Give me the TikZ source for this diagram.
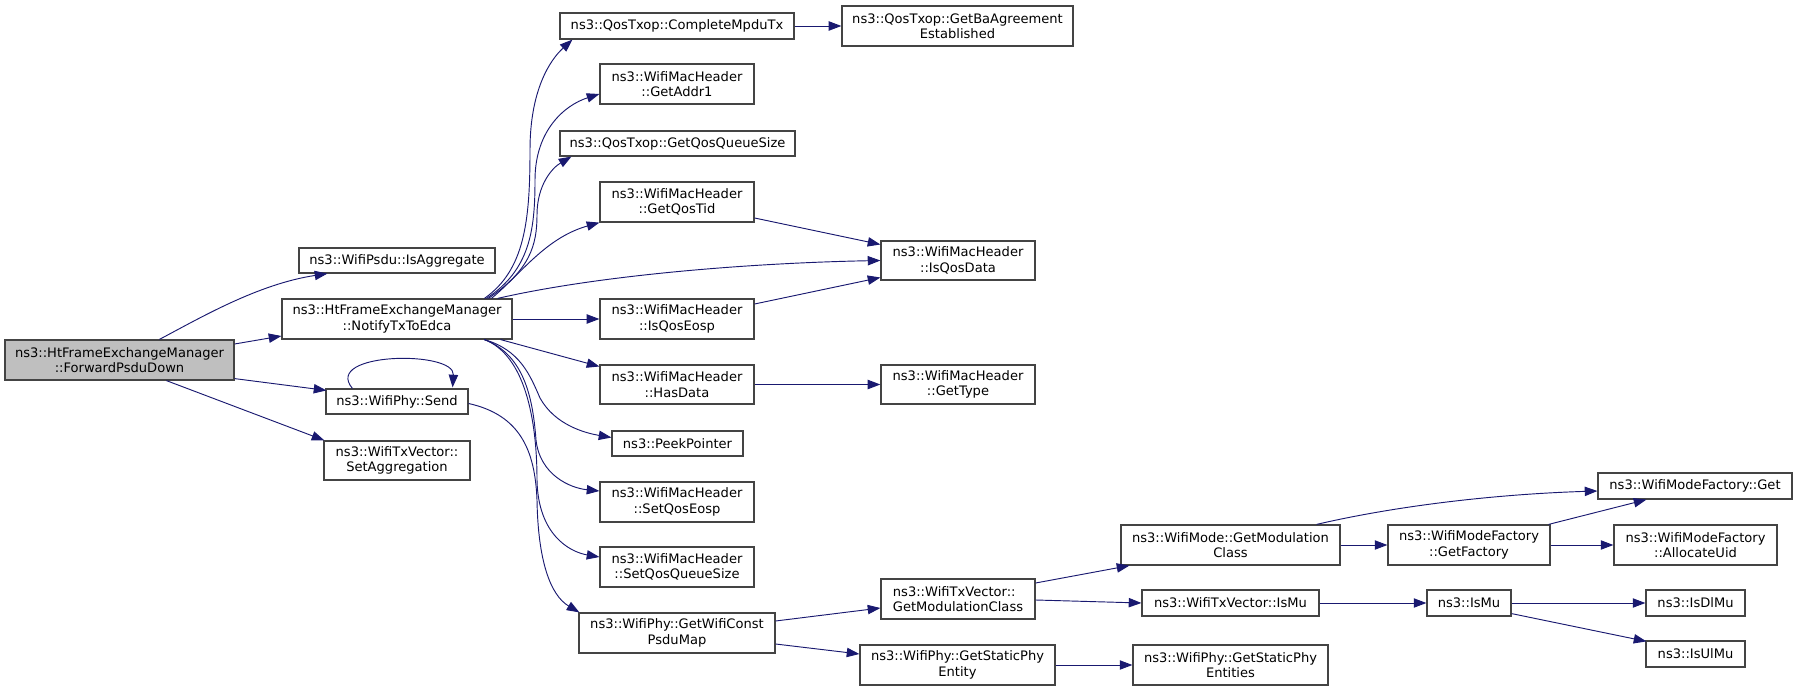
\documentclass[tikz,border=0pt]{standalone}
\usepackage{fontspec}
\setmainfont{DejaVu Sans}
\usetikzlibrary{arrows.meta,calc}
\definecolor{edgec}{HTML}{191970}
\definecolor{boxc}{HTML}{444444}
\definecolor{mainfill}{HTML}{BFBFBF}
\newcommand\fnbox[7][]{\node[fn,minimum width=#5*0.75pt,minimum height=#6*0.75pt,#1] (#2) at (#3,#4) {#7};}
\begin{document}
\begin{tikzpicture}[x=0.75pt,y=-0.75pt,
  fn/.style={draw=boxc,line width=0.9pt,fill=white,inner sep=0pt,align=center,
    font=\fontsize{9.8}{11.6}\selectfont},
  e/.style={draw=edgec,line width=0.7pt,-{Triangle[length=9.5pt,width=7pt]}}]
\useasboundingbox (0,0) rectangle (1797,691);
% nodes
\fnbox[fill=mainfill]{main}{119.5}{360}{229}{40}{ns3::HtFrameExchangeManager\\::ForwardPsduDown}
\fnbox{isagg}{397}{260.5}{196}{25}{ns3::WifiPsdu::IsAggregate}
\fnbox{notify}{397}{319}{230}{40}{ns3::HtFrameExchangeManager\\::NotifyTxToEdca}
\fnbox{send}{397}{401.5}{142}{25}{ns3::WifiPhy::Send}
\fnbox{setagg}{397}{460.5}{146}{39}{ns3::WifiTxVector::\\SetAggregation}
\fnbox{complete}{677}{26}{234}{26}{ns3::QosTxop::CompleteMpduTx}
\fnbox{addr1}{677}{84}{154}{40}{ns3::WifiMacHeader\\::GetAddr1}
\fnbox{qqs}{677.5}{143.5}{235}{25}{ns3::QosTxop::GetQosQueueSize}
\fnbox{qostid}{677}{202}{154}{40}{ns3::WifiMacHeader\\::GetQosTid}
\fnbox{isqoseosp}{677}{319}{154}{40}{ns3::WifiMacHeader\\::IsQosEosp}
\fnbox{hasdata}{677}{384.5}{154}{39}{ns3::WifiMacHeader\\::HasData}
\fnbox{peek}{677.5}{443.5}{131}{25}{ns3::PeekPointer}
\fnbox{setqoseosp}{677}{502}{154}{40}{ns3::WifiMacHeader\\::SetQosEosp}
\fnbox{setqqs}{677}{567}{154}{40}{ns3::WifiMacHeader\\::SetQosQueueSize}
\fnbox{psdumap}{677}{633}{196}{40}{ns3::WifiPhy::GetWifiConst\\PsduMap}
\fnbox{baagr}{957.5}{26}{231}{40}{ns3::QosTxop::GetBaAgreement\\Established}
\fnbox{isqosdata}{958}{260.5}{154}{39}{ns3::WifiMacHeader\\::IsQosData}
\fnbox{gettype}{958}{384.5}{154}{39}{ns3::WifiMacHeader\\::GetType}
\fnbox[align=left]{txmod}{958}{599}{154}{40}{ns3::WifiTxVector::\\GetModulationClass}
\fnbox{phyent}{957.5}{665}{195}{40}{ns3::WifiPhy::GetStaticPhy\\Entity}
\fnbox{wmmod}{1230.5}{545}{219}{40}{ns3::WifiMode::GetModulation\\Class}
\fnbox{txismu}{1230.5}{603}{177}{26}{ns3::WifiTxVector::IsMu}
\fnbox{phyents}{1230.5}{665}{195}{40}{ns3::WifiPhy::GetStaticPhy\\Entities}
\fnbox{factget}{1695}{486}{194}{26}{ns3::WifiModeFactory::Get}
\fnbox{getfactory}{1469}{545}{162}{40}{ns3::WifiModeFactory\\::GetFactory}
\fnbox{alloc}{1695.5}{545}{163}{40}{ns3::WifiModeFactory\\::AllocateUid}
\fnbox{ismu}{1469}{603}{84}{26}{ns3::IsMu}
\fnbox{isdlmu}{1695.5}{603}{99}{26}{ns3::IsDlMu}
\fnbox{isulmu}{1695.5}{654}{99}{26}{ns3::IsUlMu}
% edges from main
\draw[e] ($(main.north west)+(155,0)$) .. controls (200,318) and (258,284) .. ($(isagg.south west)+(29,0)$);
\draw[e] ($(main.east)+(0,-16)$) -- ($(notify.west)+(0,17)$);
\draw[e] ($(main.south east)+(0,-2)$) -- ($(send.north west)+(1,2)$);
\draw[e] ($(main.south west)+(162,0)$) -- ($(setagg.north west)+(1,0)$);
% send
\draw[e] ($(send.north west)+(27,0)$) .. controls (322,352) and (455,350) .. ($(send.north east)+(-16,-1)$);
\draw[e] ($(send.east)+(0,2)$) .. controls (520,415) and (535,450) .. (537,500) .. controls (538,560) and (550,595) .. ($(psdumap.north west)+(1,0)$);
% notify bottom
\draw[e] ($(notify.south east)+(-12,0)$) -- ($(hasdata.west)+(0,-18)$);
\draw[e] ($(notify.south west)+(203,0)$) .. controls (520,350) and (530,375) .. (540,398) .. controls (555,425) and (585,433) .. ($(peek.west)+(0,-6)$);
\draw[e] ($(notify.south west)+(203,0)$) .. controls (525,355) and (533,400) .. (536,440) .. controls (540,475) and (570,488) .. ($(setqoseosp.west)+(0,-11)$);
\draw[e] ($(notify.south west)+(203,0)$) .. controls (525,355) and (537,420) .. (537,480) .. controls (538,535) and (570,552) .. ($(setqqs.west)+(0,-10)$);
% notify top
\draw[e] ($(notify.north west)+(203,0)$) .. controls (525,270) and (530,220) .. (530,150) .. controls (530,90) and (550,60) .. ($(complete.south west)+(13,0)$);
\draw[e] ($(notify.north west)+(205,0)$) .. controls (530,270) and (535,230) .. (535,180) .. controls (535,130) and (565,105) .. ($(addr1.west)+(0,10)$);
\draw[e] ($(notify.north west)+(207,0)$) .. controls (530,270) and (537,245) .. (537,215) .. controls (537,185) and (552,168) .. ($(qqs.south west)+(12,0)$);
\draw[e] ($(notify.north west)+(210,0)$) .. controls (520,275) and (545,238) .. (qostid.south west);
\draw[e] ($(notify.north east)+(-15,0)$) .. controls (600,275) and (750,263) .. (isqosdata.west);
\draw[e] (notify.east) -- (isqoseosp.west);
% right side
\draw[e] (complete.east) -- (baagr.west |- complete.east);
\draw[e] ($(qostid.east)+(0,16)$) -- ($(isqosdata.west)+(0,-16)$);
\draw[e] ($(isqoseosp.east)+(0,-15)$) -- ($(isqosdata.west)+(0,17)$);
\draw[e] (hasdata.east) -- (gettype.west);
\draw[e] ($(psdumap.east)+(0,-12)$) -- ($(txmod.west)+(0,9)$);
\draw[e] ($(psdumap.east)+(0,11)$) -- ($(phyent.west)+(0,-11)$);
\draw[e] ($(txmod.east)+(0,-16)$) -- ($(wmmod.south west)+(9,0)$);
\draw[e] ($(txmod.east)+(0,1)$) -- (txismu.west);
\draw[e] (phyent.east) -- (phyents.west);
\draw[e] ($(wmmod.north east)+(-24,0)$) .. controls (1400,505) and (1500,494) .. ($(factget.west)+(0,5)$);
\draw[e] (wmmod.east) -- (getfactory.west);
\draw[e] ($(getfactory.north east)+(-2,0)$) -- ($(factget.south west)+(49,0)$);
\draw[e] (getfactory.east) -- (alloc.west);
\draw[e] (txismu.east) -- (ismu.west);
\draw[e] (ismu.east) -- (isdlmu.west);
\draw[e] ($(ismu.south east)+(0,-3)$) -- ($(isulmu.north west)+(1,1)$);
\end{tikzpicture}
\end{document}
